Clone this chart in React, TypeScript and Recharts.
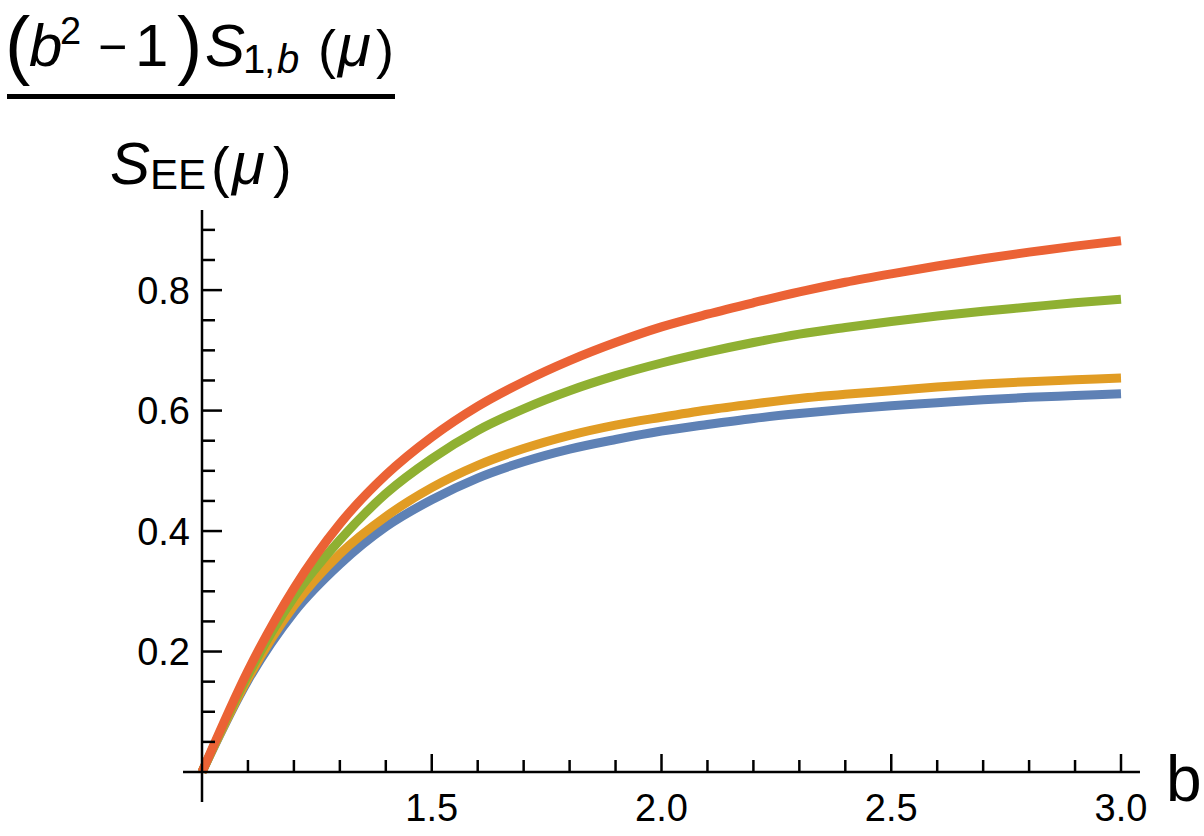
import React from "react";
import { LineChart, Line, XAxis, YAxis, ReferenceLine } from "recharts";

const bValues = [1.0, 1.1, 1.2, 1.3, 1.4, 1.5, 1.6, 1.7, 1.8, 1.9, 2.0, 2.1, 2.2, 2.3, 2.4, 2.5, 2.6, 2.7, 2.8, 2.9, 3.0];
const blueSeries = [0, 0.152, 0.265, 0.345, 0.407, 0.452, 0.488, 0.515, 0.536, 0.552, 0.566, 0.577, 0.587, 0.595, 0.602, 0.608, 0.613, 0.618, 0.622, 0.625, 0.628];
const orangeSeries = [0, 0.155, 0.276, 0.362, 0.424, 0.472, 0.509, 0.537, 0.559, 0.576, 0.589, 0.601, 0.611, 0.62, 0.627, 0.633, 0.639, 0.644, 0.648, 0.651, 0.654];
const greenSeries = [0, 0.161, 0.29, 0.385, 0.462, 0.52, 0.567, 0.603, 0.633, 0.658, 0.679, 0.697, 0.713, 0.727, 0.738, 0.748, 0.757, 0.765, 0.772, 0.779, 0.785];
const redSeries = [0, 0.168, 0.305, 0.412, 0.493, 0.556, 0.607, 0.648, 0.683, 0.713, 0.739, 0.76, 0.779, 0.797, 0.813, 0.827, 0.84, 0.852, 0.863, 0.873, 0.882];

const xTicks = [1.1, 1.2, 1.3, 1.4, 1.5, 1.6, 1.7, 1.8, 1.9, 2.0, 2.1, 2.2, 2.3, 2.4, 2.5, 2.6, 2.7, 2.8, 2.9, 3.0];
const xMajorTicks = [1.5, 2.0, 2.5, 3.0];
const xTickLabels = ["1.5", "2.0", "2.5", "3.0"];
const yTicks = [0.05, 0.1, 0.15, 0.2, 0.25, 0.3, 0.35, 0.4, 0.45, 0.5, 0.55, 0.6, 0.65, 0.7, 0.75, 0.8, 0.85, 0.9];
const yMajorTicks = [0.2, 0.4, 0.6, 0.8];
const yTickLabels = ["0.2", "0.4", "0.6", "0.8"];

const xDomain = [1, 3];
const yDomain = [0, 0.933];
const xAxisExtent = [0.9587, 3.0413];
const yAxisExtent = [-0.0498, 0.933];

const data = bValues.map((b, i) => ({
  b,
  blue: blueSeries[i],
  orange: orangeSeries[i],
  green: greenSeries[i],
  red: redSeries[i],
}));

const FONT = "'Liberation Sans', Arial, Helvetica, sans-serif";
const AXIS_W = 2.5;

const findMajor = (v: number, majors: number[]) =>
  majors.findIndex((m) => Math.abs(m - v) < 1e-6);

const XTick = (props: any) => {
  const { x, y, payload } = props;
  const idx = findMajor(payload.value, xMajorTicks);
  const len = idx >= 0 ? 18 : 12;
  return (
    <g>
      <line x1={x} x2={x} y1={y} y2={y - len} stroke="#000" strokeWidth={AXIS_W} />
      {idx >= 0 && (
        <text x={x} y={y + 49} textAnchor="middle" fontSize={38} fontFamily={FONT} fill="#000">
          {xTickLabels[idx]}
        </text>
      )}
    </g>
  );
};

const YTick = (props: any) => {
  const { x, y, payload } = props;
  const idx = findMajor(payload.value, yMajorTicks);
  const len = idx >= 0 ? 20 : 13;
  return (
    <g>
      <line x1={x} x2={x + len} y1={y} y2={y} stroke="#000" strokeWidth={AXIS_W} />
      {idx >= 0 && (
        <text x={x - 12} y={y + 13.5} textAnchor="end" fontSize={38} fontFamily={FONT} fill="#000">
          {yTickLabels[idx]}
        </text>
      )}
    </g>
  );
};

const T = (p: any) => <text fontFamily={FONT} fill="#000" {...p} />;

export default function App() {
  return (
    <div style={{ position: "absolute", left: 0, top: 0, width: 1204, height: 836, background: "#fff" }}>
      <LineChart
        width={1204}
        height={836}
        data={data}
        margin={{ top: 210, right: 83, bottom: 0, left: 0 }}
      >
        <XAxis
          dataKey="b"
          type="number"
          domain={xDomain}
          ticks={xTicks}
          interval={0}
          height={64}
          axisLine={false}
          tickLine={false}
          tickSize={0}
          tickMargin={0}
          tick={<XTick />}
        />
        <YAxis
          type="number"
          domain={yDomain}
          ticks={yTicks}
          interval={0}
          width={202}
          axisLine={false}
          tickLine={false}
          tickSize={0}
          tickMargin={0}
          tick={<YTick />}
        />
        <Line type="monotone" dataKey="blue" stroke="#5E81B5" strokeWidth={9} dot={false} isAnimationActive={false} />
        <Line type="monotone" dataKey="orange" stroke="#E19C24" strokeWidth={9} dot={false} isAnimationActive={false} />
        <Line type="monotone" dataKey="green" stroke="#8FB032" strokeWidth={9} dot={false} isAnimationActive={false} />
        <Line type="monotone" dataKey="red" stroke="#EB6235" strokeWidth={9} dot={false} isAnimationActive={false} />
        <ReferenceLine
          segment={[{ x: xAxisExtent[0], y: 0 }, { x: xAxisExtent[1], y: 0 }]}
          stroke="#000"
          strokeWidth={AXIS_W}
          ifOverflow="visible"
        />
        <ReferenceLine
          segment={[{ x: 1, y: yAxisExtent[0] }, { x: 1, y: yAxisExtent[1] }]}
          stroke="#000"
          strokeWidth={AXIS_W}
          ifOverflow="visible"
        />
      </LineChart>
      <svg
        width={1204}
        height={836}
        style={{ position: "absolute", left: 0, top: 0, pointerEvents: "none" }}
      >
        {/* numerator */}
        <T x={5} y={70} fontSize={76}>(</T>
        <T x={29} y={66} fontSize={60} fontStyle="italic">b</T>
        <T x={60} y={44} fontSize={38}>2</T>
        <T x={98} y={64} fontSize={50}>−</T>
        <T x={135} y={66} fontSize={60}>1</T>
        <T x={177} y={70} fontSize={76}>)</T>
        <T x={205} y={66} fontSize={60} fontStyle="italic">S</T>
        <T x={243} y={73} fontSize={40}>1</T>
        <T x={264} y={73} fontSize={40}>,</T>
        <T x={277} y={73} fontSize={40} fontStyle="italic">b</T>
        <T x={318} y={68} fontSize={54}>(</T>
        <T x={338} y={66} fontSize={60} fontStyle="italic">μ</T>
        <T x={376} y={68} fontSize={54}>)</T>
        {/* fraction bar */}
        <rect x={7} y={94} width={388} height={5} fill="#000" />
        {/* denominator */}
        <T x={110} y={184} fontSize={60} fontStyle="italic">S</T>
        <T x={150} y={189} fontSize={42}>EE</T>
        <T x={211} y={186} fontSize={56}>(</T>
        <T x={232} y={184} fontSize={60} fontStyle="italic">μ</T>
        <T x={273} y={186} fontSize={56}>)</T>
        {/* x-axis label */}
        <T x={1166} y={801} fontSize={64}>b</T>
      </svg>
    </div>
  );
}
